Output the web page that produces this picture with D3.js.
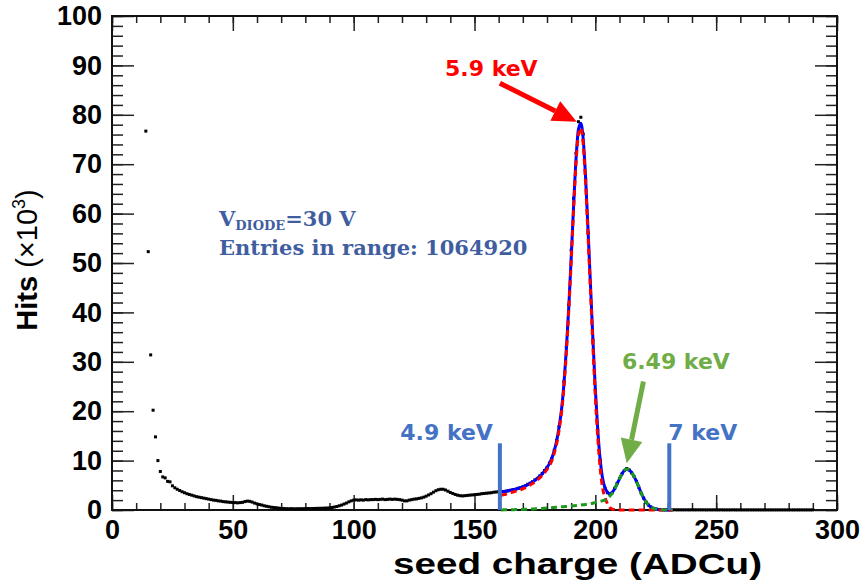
<!DOCTYPE html>
<html>
<head>
<meta charset="utf-8">
<script src="https://cdn.jsdelivr.net/npm/d3@7"></script>
<style>
  body { margin: 0; background: #fff; }
</style>
</head>
<body>
<svg id="chart" width="862" height="582"></svg>
<script>
// tick labels
const xTicks = [0, 50, 100, 150, 200, 250, 300];
const yTicks = [0, 10, 20, 30, 40, 50, 60, 70, 80, 90, 100];

// histogram: one bin per ADCu, first bin at 14 (hits in thousands)
const hitsStart = 14;
const hits = [
  76.7, 52.3, 31.4, 20.2, 14.8, 10.0, 7.8, 6.7, 6.5, 5.8,
  5.7, 4.9, 4.5, 4.2, 3.95, 3.7, 3.5, 3.3, 3.15, 3.0,
  2.85, 2.7, 2.6, 2.5, 2.4, 2.3, 2.2, 2.1, 2.0, 1.95,
  1.85, 1.8, 1.7, 1.65, 1.6, 1.55, 1.5, 1.5, 1.45, 1.5,
  1.55, 1.7, 1.8, 1.75, 1.6, 1.4, 1.25, 1.1, 1.0, 0.85,
  0.75, 0.65, 0.55, 0.5, 0.45, 0.38, 0.32, 0.3, 0.27, 0.25,
  0.27, 0.25, 0.24, 0.26, 0.25, 0.27, 0.27, 0.3, 0.28, 0.3,
  0.32, 0.33, 0.35, 0.35, 0.38, 0.4, 0.42, 0.5, 0.6, 0.7,
  0.85, 1.0, 1.2, 1.4, 1.65, 1.85, 2.0, 2.05, 2.0, 2.05,
  2.0, 2.1, 2.05, 2.1, 2.1, 2.15, 2.1, 2.15, 2.2, 2.1,
  2.15, 2.2, 2.15, 2.2, 2.15, 2.1, 2.0, 1.85, 1.85, 2.0,
  2.1, 2.2, 2.25, 2.35, 2.45, 2.6, 2.8, 3.05, 3.3, 3.6,
  3.9, 4.1, 4.2, 4.2, 4.05, 3.8, 3.55, 3.35, 3.15, 3.0,
  2.9, 2.85, 2.9, 2.95, 3.0, 3.05, 3.1, 3.15, 3.2, 3.3,
  3.35, 3.4, 3.45, 3.5, 3.6, 3.65, 3.7, 3.7, 3.75, 3.8,
  3.9, 4.0, 4.1, 4.2, 4.4, 4.5, 4.7, 4.9, 5.2, 5.4,
  5.7, 6.1, 6.4, 6.9, 7.4, 8.0, 8.6, 9.5, 10.4, 12.1,
  14.1, 16.9, 20.2, 26.0, 33.0, 41.5, 52.6, 63.1, 72.2, 78.6,
  79.5, 76.1, 66.8, 56.1, 45.5, 34.4, 24.3, 16.2, 10.1, 6.1,
  4.4, 3.5, 3.2, 3.5, 4.4, 5.4, 6.4, 7.3, 8.0, 8.4,
  8.1, 7.5, 6.8, 5.8, 4.6, 3.4, 2.4, 1.6, 1.0, 0.6,
  0.35, 0.2, 0.12, 0.08, 0.06, 0.05, 0.05, 0.04, 0.04, 0.04,
  0.03, 0.03, 0.03, 0.03, 0.03, 0.03, 0.03, 0.03, 0.03, 0.03,
  0.03, 0.03, 0.02, 0.03, 0.02, 0.03, 0.02, 0.02, 0.03, 0.02,
  0.02, 0.02, 0.02, 0.03, 0.02, 0.02, 0.02, 0.02, 0.02, 0.02,
  0.02, 0.02, 0.02, 0.02, 0.02, 0.02, 0.02, 0.02, 0.02, 0.02,
  0.02, 0.02, 0.02, 0.02, 0.02, 0.02, 0.02, 0.02, 0.02, 0.02,
  0.02, 0.02, 0.02, 0.02, 0.02, 0.02, 0.02
];

// fit curves, sampled every ADCu from 161 to 232
const fitStart = 161;
const totalFit = [
  3.6, 3.7, 3.8, 3.9, 4.0, 4.1, 4.2, 4.35, 4.5, 4.7,
  4.9, 5.1, 5.4, 5.7, 6.0, 6.4, 6.8, 7.3, 7.9, 8.6,
  9.4, 10.5, 12.0, 14.0, 16.8, 20.3, 25.5, 32.5, 41.0, 51.0,
  61.5, 71.0, 77.0, 78.3, 75.0, 67.0, 56.5, 45.5, 34.5, 24.5,
  16.3, 10.2, 6.4, 4.5, 3.6, 3.3, 3.6, 4.3, 5.3, 6.3,
  7.3, 8.0, 8.3, 8.1, 7.6, 6.8, 5.8, 4.6, 3.4, 2.4,
  1.6, 1.0, 0.6, 0.35, 0.2, 0.1, 0.05, 0.03, 0.02, 0.01, 0, 0
];
const mainPeak = [
  3.0, 3.1, 3.2, 3.35, 3.5, 3.65, 3.8, 3.95, 4.1, 4.3,
  4.5, 4.75, 5.05, 5.35, 5.7, 6.1, 6.5, 7.0, 7.55, 8.2,
  8.95, 10.0, 11.5, 13.45, 16.2, 19.65, 24.8, 31.8, 40.25, 50.2,
  60.65, 70.1, 76.05, 77.3, 73.95, 65.9, 55.3, 44.2, 33.1, 23.0,
  14.7, 8.45, 4.5, 2.5, 1.3, 0.5, 0.2, 0.05, 0, 0,
  0, 0, 0, 0, 0, 0, 0, 0, 0, 0,
  0, 0, 0, 0, 0, 0, 0, 0, 0, 0, 0, 0
];
const betaPeak = [
  0.02, 0.03, 0.04, 0.05, 0.06, 0.07, 0.08, 0.09, 0.1, 0.12,
  0.14, 0.16, 0.18, 0.2, 0.23, 0.26, 0.29, 0.32, 0.36, 0.4,
  0.44, 0.48, 0.52, 0.56, 0.6, 0.64, 0.68, 0.72, 0.76, 0.8,
  0.85, 0.9, 0.95, 1.0, 1.06, 1.12, 1.2, 1.28, 1.38, 1.5,
  1.62, 1.75, 1.88, 2.0, 2.3, 2.8, 3.4, 4.25, 5.3, 6.3,
  7.3, 8.0, 8.3, 8.1, 7.6, 6.8, 5.8, 4.6, 3.4, 2.4,
  1.6, 1.0, 0.6, 0.35, 0.2, 0.1, 0.05, 0.03, 0.02, 0.01, 0, 0
];

// range markers
const rangeEdges = [160.5, 230.6];
const rangeLabels = ["4.9 keV", "7 keV"];
const rangeHeight = 13.5;

const svg = d3.select("#chart");
const x = d3.scaleLinear().domain([0, 300]).range([112, 837]);
const y = d3.scaleLinear().domain([0, 100]).range([510, 16]);

const tickFont = "'Liberation Sans', Arial, sans-serif";

// axes: ticks inside on all four sides
function styleAxis(g) {
  g.select(".domain").remove();
  g.selectAll(".tick line").attr("stroke", "#222").attr("stroke-width", 1.5);
  g.selectAll("text").attr("font-family", tickFont).attr("font-weight", "bold")
    .attr("font-size", 27).attr("fill", "#000");
}

svg.append("g").attr("transform", "translate(0,510)")
  .call(d3.axisBottom(x).tickValues(d3.range(0, 301, 10)).tickSize(-7).tickFormat(""))
  .call(styleAxis);
svg.append("g").attr("transform", "translate(0,510)")
  .call(d3.axisBottom(x).tickValues(xTicks).tickSize(-15).tickPadding(10).tickFormat(d3.format("d")))
  .call(styleAxis);
svg.append("g").attr("transform", "translate(0,16)")
  .call(d3.axisTop(x).tickValues(d3.range(0, 301, 10)).tickSize(-7).tickFormat(""))
  .call(styleAxis);
svg.append("g").attr("transform", "translate(0,16)")
  .call(d3.axisTop(x).tickValues(xTicks).tickSize(-15).tickFormat(""))
  .call(styleAxis);

svg.append("g").attr("transform", "translate(112,0)")
  .call(d3.axisLeft(y).tickValues(d3.range(0, 101, 2)).tickSize(-11).tickFormat(""))
  .call(styleAxis);
svg.append("g").attr("transform", "translate(112,0)")
  .call(d3.axisLeft(y).tickValues(yTicks).tickSize(-22).tickPadding(10).tickFormat(d3.format("d")))
  .call(styleAxis);
svg.append("g").attr("transform", "translate(837,0)")
  .call(d3.axisRight(y).tickValues(d3.range(0, 101, 2)).tickSize(-11).tickFormat(""))
  .call(styleAxis);
svg.append("g").attr("transform", "translate(837,0)")
  .call(d3.axisRight(y).tickValues(yTicks).tickSize(-22).tickFormat(""))
  .call(styleAxis);

// frame
svg.append("rect")
  .attr("x", x(0)).attr("y", y(100))
  .attr("width", x(300) - x(0)).attr("height", y(0) - y(100))
  .attr("fill", "none").attr("stroke", "#111").attr("stroke-width", 2);

// axis titles
svg.append("text")
  .attr("x", 393).attr("y", 574)
  .attr("textLength", 369).attr("lengthAdjust", "spacingAndGlyphs")
  .attr("font-family", tickFont).attr("font-weight", "bold").attr("font-size", 30)
  .text("seed charge (ADCu)");

const yTitle = svg.append("text")
  .attr("transform", "translate(37,260) rotate(-90)")
  .attr("text-anchor", "middle")
  .attr("font-family", tickFont).attr("font-size", 29);
yTitle.append("tspan").attr("font-weight", "bold").text("Hits ");
yTitle.append("tspan").text("(\u00d710");
yTitle.append("tspan").attr("font-size", 18).attr("dy", -12).text("3");
yTitle.append("tspan").attr("dy", 12).text(")");

// data points
const points = hits.map((v, i) => ({ x: hitsStart + i, v: v }));
svg.append("g").selectAll("rect")
  .data(points)
  .join("rect")
  .attr("x", d => x(d.x) - 1.5)
  .attr("y", d => y(d.v) - 1.5)
  .attr("width", 3).attr("height", 3)
  .attr("fill", "#000");

// fit curves
function curve(vals) {
  return vals.map((v, i) => ({ x: fitStart + i, v: v }));
}
const line = d3.line().x(d => x(d.x)).y(d => y(d.v)).curve(d3.curveMonotoneX);

svg.append("path").attr("d", line(curve(totalFit)))
  .attr("fill", "none").attr("stroke", "#0000ff").attr("stroke-width", 3);
svg.append("path").attr("d", line(curve(mainPeak)))
  .attr("fill", "none").attr("stroke", "#ff0000").attr("stroke-width", 3)
  .attr("stroke-dasharray", "6,4");
svg.append("path").attr("d", line(curve(betaPeak)))
  .attr("fill", "none").attr("stroke", "#1a9a1a").attr("stroke-width", 3)
  .attr("stroke-dasharray", "6,4");

// range markers
const labelFont = "'DejaVu Sans', sans-serif";
const blue = "#4472c4";
svg.append("g").selectAll("line")
  .data(rangeEdges)
  .join("line")
  .attr("x1", d => x(d)).attr("x2", d => x(d))
  .attr("y1", y(0)).attr("y2", y(rangeHeight))
  .attr("stroke", blue).attr("stroke-width", 4);
svg.append("g").selectAll("text")
  .data(rangeEdges)
  .join("text")
  .attr("x", (d, i) => i === 0 ? x(d) - 7 : x(d) - 1)
  .attr("y", y(rangeHeight) - 3)
  .attr("text-anchor", (d, i) => i === 0 ? "end" : "start")
  .attr("font-family", labelFont).attr("font-weight", "bold").attr("font-size", 22)
  .attr("fill", blue)
  .text((d, i) => rangeLabels[i]);

// peak annotations with arrows
function arrow(x0, y0, x1, y1, color) {
  const px0 = x(x0), py0 = y(y0), px1 = x(x1), py1 = y(y1);
  const ang = Math.atan2(py1 - py0, px1 - px0);
  const hl = 24, hw = 11;
  const bx = px1 - hl * Math.cos(ang), by = py1 - hl * Math.sin(ang);
  svg.append("line")
    .attr("x1", px0).attr("y1", py0).attr("x2", bx).attr("y2", by)
    .attr("stroke", color).attr("stroke-width", 5);
  const nx = -Math.sin(ang), ny = Math.cos(ang);
  svg.append("polygon")
    .attr("points", [[px1, py1], [bx + nx * hw, by + ny * hw], [bx - nx * hw, by - ny * hw]].map(p => p.join(",")).join(" "))
    .attr("fill", color);
}

svg.append("text")
  .attr("x", x(137.8)).attr("y", y(87.9))
  .attr("font-family", labelFont).attr("font-weight", "bold").attr("font-size", 22)
  .attr("fill", "#ff0000").text("5.9 keV");
arrow(160.5, 86.4, 192.3, 78.6, "#ff0000");

svg.append("text")
  .attr("x", x(211)).attr("y", y(28.5))
  .attr("font-family", labelFont).attr("font-weight", "bold").attr("font-size", 22)
  .attr("fill", "#70ad47").text("6.49 keV");
arrow(219.9, 26.0, 213.0, 9.45, "#70ad47");

// info box
const infoColor = "#3f5e9f";
const info = svg.append("text")
  .attr("x", 219).attr("y", 226)
  .attr("font-family", "'DejaVu Serif', serif").attr("font-weight", "bold")
  .attr("font-size", 21).attr("fill", infoColor);
info.append("tspan").text("V");
info.append("tspan").attr("font-size", 13).attr("dy", 4).text("DIODE");
info.append("tspan").attr("dy", -4).text("=30 V");
svg.append("text")
  .attr("x", 219).attr("y", 255)
  .attr("font-family", "'DejaVu Serif', serif").attr("font-weight", "bold")
  .attr("font-size", 21).attr("fill", infoColor)
  .text("Entries in range: 1064920");
</script>
</body>
</html>
